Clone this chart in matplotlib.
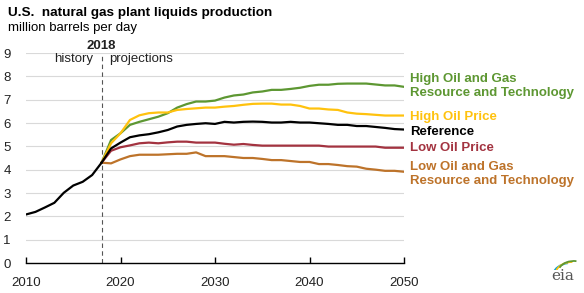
import matplotlib
matplotlib.use("Agg")
import matplotlib.pyplot as plt
from matplotlib.patches import Arc

plt.rcParams["font.family"] = ["Liberation Sans", "DejaVu Sans"]

hist_years = list(range(2010, 2019))
hist_vals = [2.08, 2.19, 2.38, 2.58, 3.01, 3.32, 3.48, 3.77, 4.30]

proj_years = list(range(2018, 2051))
reference = [4.30, 4.91, 5.16, 5.39, 5.47, 5.52, 5.60, 5.70, 5.85, 5.92, 5.96,
             5.99, 5.96, 6.05, 6.02, 6.05, 6.06, 6.05, 6.02, 6.02, 6.05, 6.02,
             6.02, 5.99, 5.96, 5.92, 5.92, 5.87, 5.87, 5.83, 5.79, 5.74, 5.72]
high_ogrt = [4.30, 5.27, 5.56, 5.92, 6.05, 6.16, 6.27, 6.42, 6.66, 6.81, 6.92,
             6.92, 6.96, 7.09, 7.18, 7.22, 7.31, 7.35, 7.42, 7.42, 7.46, 7.51,
             7.59, 7.64, 7.64, 7.68, 7.69, 7.69, 7.69, 7.65, 7.61, 7.61, 7.55]
high_price = [4.30, 5.13, 5.56, 6.13, 6.33, 6.42, 6.45, 6.45, 6.56, 6.60, 6.63,
              6.66, 6.66, 6.70, 6.73, 6.78, 6.82, 6.83, 6.83, 6.79, 6.79, 6.73,
              6.62, 6.62, 6.58, 6.56, 6.45, 6.40, 6.38, 6.35, 6.32, 6.32, 6.32]
low_price = [4.30, 4.81, 4.96, 5.04, 5.13, 5.16, 5.13, 5.17, 5.20, 5.20, 5.16,
             5.16, 5.16, 5.11, 5.07, 5.10, 5.06, 5.03, 5.03, 5.03, 5.03, 5.03,
             5.03, 5.03, 4.99, 4.99, 4.99, 4.99, 4.99, 4.99, 4.94, 4.94, 4.94]
low_ogrt = [4.30, 4.27, 4.44, 4.58, 4.64, 4.64, 4.64, 4.66, 4.68, 4.68, 4.74,
            4.58, 4.58, 4.58, 4.54, 4.50, 4.50, 4.46, 4.41, 4.41, 4.37, 4.33,
            4.33, 4.24, 4.24, 4.20, 4.15, 4.13, 4.04, 4.00, 3.95, 3.95, 3.91]

green = "#5d9732"
yellow = "#ffc20e"
red = "#a33340"
orange = "#bd732a"

fig = plt.figure(figsize=(5.84, 2.93), dpi=100)
ax = fig.add_axes([26 / 584, 1 - 263 / 293, 378 / 584, 210 / 293])

ax.plot(proj_years, high_ogrt, color=green, lw=1.6, zorder=3)
ax.plot(proj_years, high_price, color=yellow, lw=1.6, zorder=3)
ax.plot(proj_years, low_price, color=red, lw=1.6, zorder=3)
ax.plot(proj_years, low_ogrt, color=orange, lw=1.6, zorder=3)
ax.plot(proj_years, reference, color="black", lw=1.6, zorder=4)
ax.plot(hist_years, hist_vals, color="black", lw=1.6, zorder=4)

ax.set_xlim(2010, 2050)
ax.set_ylim(0, 9)
ax.set_yticks(range(0, 10))
ax.set_xticks([2010, 2020, 2030, 2040, 2050])
ax.grid(axis="y", color="#d9d9d9", lw=0.8)
ax.set_axisbelow(True)
for s in ["top", "right", "left"]:
    ax.spines[s].set_visible(False)
ax.spines["bottom"].set_color("black")
ax.spines["bottom"].set_linewidth(1.0)
ax.tick_params(axis="y", length=0, pad=11, labelsize=9.5, labelcolor="#222222")
ax.tick_params(axis="x", direction="in", length=4, width=1, pad=10,
               labelsize=9.5, labelcolor="#222222")

ax.axvline(2018, ymax=8.95 / 9, color="#555555", lw=0.8, ls=(0, (4, 3)))
ax.text(2018, 9.05, "2018", ha="center", va="bottom", fontsize=9.5,
        fontweight="bold", color="#222222")
ax.text(2017.1, 8.75, "history", ha="right", va="center", fontsize=9.5,
        color="#222222")
ax.text(2018.8, 8.75, "projections", ha="left", va="center", fontsize=9.5,
        color="#222222")

fig.text(8 / 584, 1 - 13 / 293, "U.S.  natural gas plant liquids production",
         fontsize=9.7, fontweight="bold", va="center", ha="left")
fig.text(8 / 584, 1 - 28 / 293, "million barrels per day", fontsize=9.5,
         va="center", ha="left")

labels = [
    ("High Oil and Gas\nResource and Technology", green, 86),
    ("High Oil Price", yellow, 117),
    ("Reference", "black", 132),
    ("Low Oil Price", red, 148),
    ("Low Oil and Gas\nResource and Technology", orange, 174),
]
for text, color, ypix in labels:
    fig.text(410 / 584, 1 - ypix / 293, text, color=color, fontsize=9.5,
             fontweight="bold", va="center", ha="left", linespacing=1.25)

# eia logo
fig.text(563 / 584, 1 - 276 / 293, "eia", fontsize=11, color="#555555",
         family=["DejaVu Serif"], ha="center", va="center")
lax = fig.add_axes([550 / 584, 1 - 270 / 293, 28 / 584, 10 / 293])
lax.set_xlim(0, 1)
lax.set_ylim(0, 1)
lax.axis("off")
lax.add_patch(Arc((0.75, -0.6), 1.3, 2.6, theta1=95, theta2=160, color="#00a0dc", lw=1.3))
lax.add_patch(Arc((0.8, -0.4), 1.2, 2.4, theta1=90, theta2=150, color="#ffc20e", lw=1.3))
lax.add_patch(Arc((0.85, -0.2), 1.1, 2.2, theta1=85, theta2=140, color="#5d9732", lw=1.3))

fig.savefig("out.png", dpi=100)
